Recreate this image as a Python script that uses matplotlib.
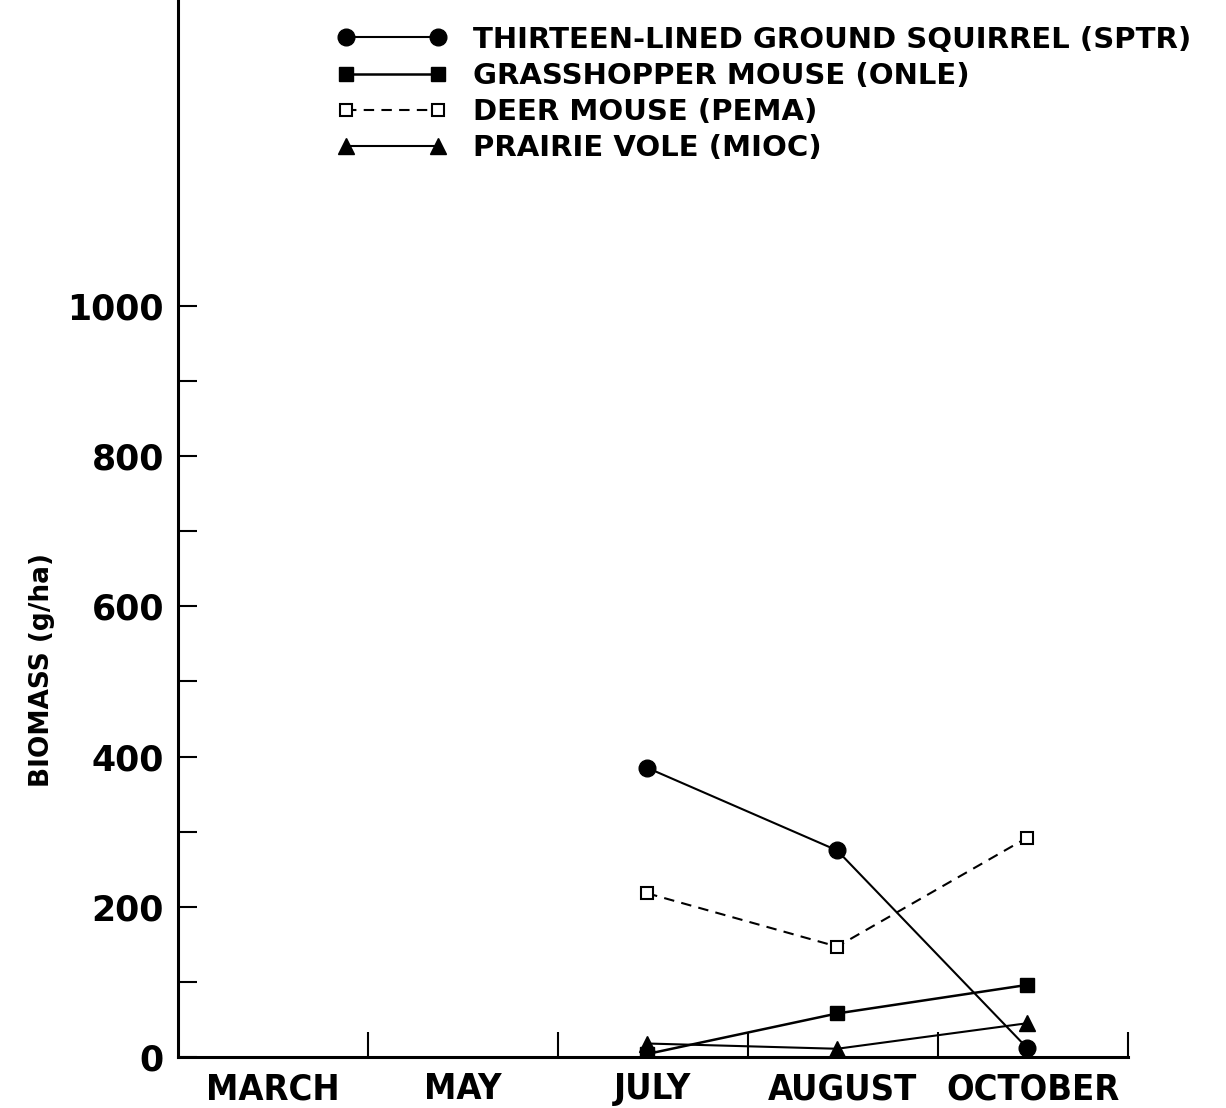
import matplotlib
matplotlib.use("Agg")
import matplotlib.pyplot as plt
from matplotlib.ticker import FixedLocator

# 月份与各物种生物量 (g/ha)
months = ["MARCH", "MAY", "JULY", "AUGUST", "OCTOBER"]
sample_months = ["JULY", "AUGUST", "OCTOBER"]
sptr = [385, 275, 12]   # thirteen-lined ground squirrel
onle = [4, 58, 96]      # grasshopper mouse
pema = [218, 147, 292]  # deer mouse
mioc = [18, 11, 45]     # prairie vole

labels = [
    "THIRTEEN-LINED GROUND SQUIRREL (SPTR)",
    "GRASSHOPPER MOUSE (ONLE)",
    "DEER MOUSE (PEMA)",
    "PRAIRIE VOLE (MIOC)",
]

plt.rcParams["font.family"] = ["DejaVu Sans"]

fig = plt.figure(figsize=(12.26, 11.08), dpi=100)
ax = fig.add_axes([0.145, 0.046, 0.775, 0.954])

# 每个月份占一格, 点画在格子中间
xpos = [months.index(m) + 0.47 for m in sample_months]

ax.plot(xpos, sptr, color="black", lw=1.5, marker="o", ms=12, label=labels[0])
ax.plot(xpos, onle, color="black", lw=1.8, marker="s", ms=10, label=labels[1])
ax.plot(xpos, pema, color="black", lw=1.5, ls=(0, (5, 3.5)), marker="s", ms=9,
        mfc="white", mec="black", mew=1.5, label=labels[2])
ax.plot(xpos, mioc, color="black", lw=1.5, marker="^", ms=11, label=labels[3])

ax.set_xlim(0, 5)
ax.set_ylim(0, 1407)

for side in ["top", "right"]:
    ax.spines[side].set_visible(False)
ax.spines["left"].set_linewidth(2.2)
ax.spines["bottom"].set_linewidth(2.2)

# y轴: 主刻度200, 次刻度100 (只到1000), 刻度线朝内
ax.set_yticks([0, 200, 400, 600, 800, 1000])
ax.yaxis.set_minor_locator(FixedLocator([100, 300, 500, 700, 900]))
ax.tick_params(axis="y", which="both", direction="in", length=14, width=1.5,
               pad=10, labelsize=25)
for t in ax.get_yticklabels():
    t.set_fontweight("bold")

# x轴: 刻度线在格子边界, 月份标签在格子中间
ax.set_xticks([1, 2, 3, 4, 5])
ax.set_xticklabels([])
ax.set_xticks([i + 0.5 for i in range(len(months))], minor=True)
ax.set_xticklabels(months, minor=True, fontsize=26, fontweight="bold",
                   fontstretch="condensed")
ax.tick_params(axis="x", which="major", direction="in", length=18, width=1.5)
ax.tick_params(axis="x", which="minor", length=0, pad=11)

ax.set_ylabel("BIOMASS (g/ha)", fontsize=19, fontweight="bold")
ax.yaxis.set_label_coords(-0.129, 0.366)

leg = ax.legend(loc="upper left", bbox_to_anchor=(0.146, 0.995), frameon=False,
                numpoints=2, handlelength=3.76, handletextpad=0.9,
                labelspacing=0.28, borderaxespad=0.3,
                prop={"size": 21, "weight": "bold"})

fig.savefig("out.png", dpi=100)
